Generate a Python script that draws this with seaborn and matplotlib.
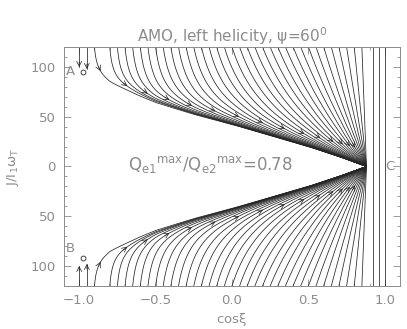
import numpy as np
import pandas as pd
import matplotlib
matplotlib.use("Agg")
import matplotlib.pyplot as plt
import seaborn as sns

# cos(xi) where each trajectory enters at the top (and, mirrored, bottom) edge
start_cos = [-0.9, -0.8, -0.75, -0.7, -0.65, -0.6, -0.55, -0.5, -0.45, -0.4,
             -0.35, -0.3, -0.25, -0.2, -0.15, -0.1, -0.05, 0.0, 0.05, 0.1,
             0.15, 0.2, 0.25, 0.3, 0.35, 0.4, 0.45, 0.5, 0.55, 0.6, 0.65,
             0.7, 0.75, 0.8, 0.85]
# lines that fall straight into A (top) / B (bottom)
drop_cos = [-1.0, -0.95]
drop_J = [100, 98]
# lines right of C that stay vertical
vertical_cos = [0.92, 0.96, 1.0]
# J the trajectories settle onto (upper half)
env_cos = [-1.0, -0.9, -0.85, -0.8, -0.7, -0.6, -0.5, -0.25, 0.0, 0.25, 0.5, 0.7, 0.88]
env_J = [100, 93, 87, 82, 76, 69.5, 63.5, 52, 42, 31, 20, 10, 0]

J_edge = 120
c_cos = 0.88      # point C where everything converges

title = r"AMO, left helicity, $\psi$=60$^0$"
ratio_text = r"Q$_{e1}$$^{max}$/Q$_{e2}$$^{max}$=0.78"


def trajectory(x0):
    # curve from (x0, J_edge) that relaxes onto the envelope and ends at C
    s = np.linspace(0, 1, 500)
    x = x0 + (c_cos - x0) * s ** 3
    a = 0.022 * np.exp(2.9 * (x0 + 0.8))
    e0 = np.interp(x0, env_cos, env_J)
    g = a / (a + x - x0) * (c_cos - x) / (c_cos - x0)
    J = np.interp(x, env_cos, env_J) + (J_edge - e0) * g
    return x, J, g


curves = [trajectory(x0) for x0 in start_cos]
rows = []
cid = 0
for sign in (1, -1):
    for cx, cj, _ in curves:
        rows.append(pd.DataFrame({"cos": cx, "J": sign * cj, "curve": cid}))
        cid += 1
    for xv, jv in zip(drop_cos, drop_J):
        rows.append(pd.DataFrame({"cos": [xv, xv], "J": [sign * J_edge, sign * jv], "curve": cid}))
        cid += 1
for xv in vertical_cos:
    rows.append(pd.DataFrame({"cos": [xv, xv], "J": [-J_edge, J_edge], "curve": cid}))
    cid += 1
df = pd.concat(rows, ignore_index=True)

sns.set_style("ticks")
plt.rcParams["font.family"] = ["DejaVu Sans"]
plt.rcParams["mathtext.default"] = "regular"
grey = "#8c8c8c"
ink = "#262626"

fig = plt.figure(figsize=(4.07, 3.29), dpi=100)
ax = fig.add_axes([0.157, 0.131, 0.826, 0.726])
sns.lineplot(data=df, x="cos", y="J", units="curve", estimator=None, sort=False,
             color=ink, lw=0.55, ax=ax, legend=False)

head = dict(arrowstyle="->,head_length=0.35,head_width=0.18", color=ink, lw=0.5,
            shrinkA=0, shrinkB=0)


def arrow_at(cx, cj, idx, sign):
    # short arrow ending at point idx, pointing along the curve
    px, py = cx * 154.0, cj * 0.99
    j = idx
    while j > 0 and np.hypot(px[idx] - px[j], py[idx] - py[j]) < 5:
        j -= 1
    ax.annotate("", xy=(cx[idx], sign * cj[idx]), xytext=(cx[j], sign * cj[j]),
                arrowprops=head)


for sign in (1, -1):
    for n, (cx, cj, g) in enumerate(curves):
        if n == 0:
            idx = np.argmax(cj < 96)
        elif n % 2 == 1 and start_cos[n] < 0.6:
            idx = np.argmax(g < 0.15)
        else:
            continue
        arrow_at(cx, cj, idx, sign)
    for xv, jv in zip(drop_cos, drop_J):
        ax.annotate("", xy=(xv, sign * jv), xytext=(xv, sign * (jv + 5)), arrowprops=head)

ax.plot([-0.975], [95], "o", ms=3.5, mfc="none", mec=ink, mew=0.6)
ax.plot([-0.975], [-92], "o", ms=3.5, mfc="none", mec=ink, mew=0.6)
ax.text(-1.09, 95, "A", color=grey, fontsize=9.5, va="center", ha="left")
ax.text(-1.09, -82, "B", color=grey, fontsize=9.5, va="center", ha="left")
ax.text(1.03, 0, "C", color=grey, fontsize=9.5, va="center", ha="center")
ax.text(-0.14, 2, ratio_text, color=grey, fontsize=12, va="center", ha="center")

ax.set_xlim(-1.1, 1.1)
ax.set_ylim(-J_edge, J_edge)
ax.set_xticks([-1.0, -0.5, 0.0, 0.5, 1.0])
ax.set_xticklabels(["\u22121.0", "\u22120.5", "0.0", "0.5", "1.0"])
ax.set_yticks([-100, -50, 0, 50, 100])
ax.set_yticklabels(["100", "50", "0", "50", "100"])
ax.set_xticks(np.arange(-1.1, 1.11, 0.1), minor=True)
ax.set_yticks(np.arange(-120, 121, 10), minor=True)
ax.tick_params(which="both", direction="in", top=True, right=True, colors=grey,
               labelcolor=grey, labelsize=9.5, width=0.6)
ax.tick_params(which="major", length=5, pad=6)
ax.tick_params(which="minor", length=2.5)
for s in ax.spines.values():
    s.set_color(grey)
    s.set_linewidth(0.7)
ax.set_xlabel(r"cos$\xi$", color=grey, fontsize=9.5, labelpad=3)
ax.set_ylabel(r"J/I$_1$$\omega_T$", color=grey, fontsize=9.5, labelpad=7)
ax.set_title(title, color=grey, fontsize=11, pad=3)

fig.savefig("out.png", dpi=100)
